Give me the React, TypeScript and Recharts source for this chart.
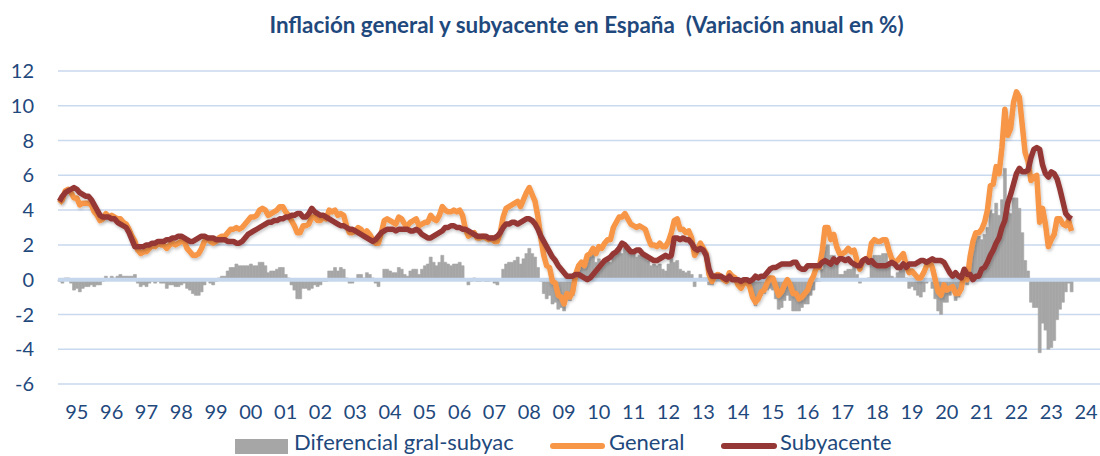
import React from 'react';
import { ComposedChart, Bar, Line, XAxis, YAxis, CartesianGrid, ReferenceLine } from 'recharts';

// Year labels on the x axis (one label per year, centred on the year)
const yearLabels = [
  '95', '96', '97', '98', '99', '00', '01', '02', '03', '04',
  '05', '06', '07', '08', '09', '10', '11', '12', '13', '14',
  '15', '16', '17', '18', '19', '20', '21', '22', '23', '24',
];

// Monthly annual rates, Jan 1995 .. Feb 2024 (one row per year)
const general = [
  4.4, 4.6, 5.1, 5.2, 5.0, 4.7, 4.7, 4.3, 4.4, 4.4, 4.4, 4.3,
  3.9, 3.7, 3.4, 3.5, 3.8, 3.6, 3.7, 3.6, 3.5, 3.5, 3.3, 3.2,
  2.9, 2.5, 2.2, 1.7, 1.5, 1.6, 1.6, 1.8, 2.0, 1.9, 2.1, 2.0,
  2.0, 1.8, 2.0, 2.1, 2.0, 2.1, 2.2, 2.2, 1.8, 1.6, 1.4, 1.4,
  1.5, 1.8, 2.2, 2.4, 2.2, 2.1, 2.2, 2.4, 2.5, 2.5, 2.7, 2.9,
  2.9, 3.0, 2.9, 3.0, 3.2, 3.4, 3.6, 3.6, 3.7, 4.0, 4.1, 4.0,
  3.7, 3.8, 3.9, 4.0, 4.2, 4.2, 3.9, 3.7, 3.4, 3.1, 2.7, 2.7,
  3.1, 3.1, 3.2, 3.6, 3.6, 3.4, 3.4, 3.6, 3.5, 4.0, 3.9, 4.0,
  3.7, 3.8, 3.7, 3.1, 2.7, 2.7, 2.8, 3.0, 2.9, 2.6, 2.8, 2.6,
  2.3, 2.1, 2.1, 2.7, 3.4, 3.5, 3.4, 3.3, 3.2, 3.6, 3.5, 3.2,
  3.1, 3.3, 3.4, 3.5, 3.1, 3.2, 3.3, 3.3, 3.7, 3.5, 3.4, 3.7,
  4.2, 4.0, 3.9, 3.9, 4.0, 3.9, 4.0, 3.7, 2.9, 2.5, 2.6, 2.7,
  2.4, 2.4, 2.5, 2.4, 2.3, 2.4, 2.2, 2.2, 2.7, 3.6, 4.1, 4.2,
  4.3, 4.4, 4.5, 4.2, 4.6, 5.0, 5.3, 4.9, 4.5, 3.6, 2.4, 1.4,
  0.8, 0.7, -0.1, -0.2, -0.9, -1.0, -1.4, -0.8, -1.0, -0.7, 0.3, 0.8,
  1.0, 0.8, 1.4, 1.5, 1.8, 1.5, 1.9, 1.8, 2.1, 2.3, 2.3, 3.0,
  3.3, 3.6, 3.6, 3.8, 3.5, 3.2, 3.1, 3.0, 3.1, 3.0, 2.9, 2.4,
  2.0, 2.0, 1.9, 2.1, 1.9, 1.9, 2.2, 2.7, 3.4, 3.5, 2.9, 2.9,
  2.7, 2.8, 2.4, 1.4, 1.7, 2.1, 1.8, 1.5, 0.3, -0.1, 0.2, 0.3,
  0.2, 0.0, -0.1, 0.4, 0.2, 0.1, -0.3, -0.5, -0.2, -0.1, -0.4, -1.0,
  -1.3, -1.1, -0.7, -0.6, -0.2, 0.1, 0.1, -0.4, -0.9, -0.7, -0.3, 0.0,
  -0.3, -0.8, -0.8, -1.1, -1.0, -0.8, -0.6, -0.1, 0.2, 0.7, 0.7, 1.6,
  3.0, 3.0, 2.3, 2.6, 1.9, 1.5, 1.5, 1.6, 1.8, 1.6, 1.7, 1.1,
  0.6, 1.1, 1.2, 1.1, 2.1, 2.3, 2.2, 2.2, 2.3, 2.3, 1.7, 1.2,
  1.0, 1.1, 1.3, 1.5, 0.8, 0.4, 0.5, 0.3, 0.1, 0.1, 0.4, 0.8,
  1.1, 0.7, 0.0, -0.7, -0.9, -0.3, -0.6, -0.5, -0.4, -0.8, -0.8, -0.5,
  0.5, 0.0, 1.3, 2.2, 2.7, 2.7, 2.9, 3.3, 4.0, 5.4, 5.5, 6.5,
  6.1, 7.6, 9.8, 8.3, 8.7, 10.2, 10.8, 10.5, 8.9, 7.3, 6.8, 5.7,
  5.9, 6.0, 3.3, 4.1, 3.2, 1.9, 2.3, 2.6, 3.5, 3.5, 3.2, 3.1,
  3.4, 2.8,
];

const subyacente = [
  4.5, 4.8, 5.0, 5.1, 5.2, 5.3, 5.2, 5.0, 4.9, 4.8, 4.8, 4.6,
  4.3, 4.0, 3.7, 3.6, 3.6, 3.6, 3.5, 3.5, 3.3, 3.2, 3.1, 3.0,
  2.7, 2.3, 1.9, 1.9, 1.9, 1.9, 2.0, 2.0, 2.1, 2.1, 2.2, 2.2,
  2.2, 2.3, 2.3, 2.4, 2.4, 2.5, 2.5, 2.4, 2.3, 2.2, 2.2, 2.3,
  2.4, 2.5, 2.5, 2.4, 2.4, 2.4, 2.3, 2.3, 2.3, 2.3, 2.2, 2.2,
  2.2, 2.1, 2.1, 2.2, 2.4, 2.6, 2.7, 2.8, 2.9, 3.0, 3.1, 3.2,
  3.3, 3.3, 3.4, 3.4, 3.5, 3.5, 3.6, 3.6, 3.7, 3.7, 3.8, 3.8,
  3.6, 3.6, 3.8, 4.1, 3.9, 3.8, 3.7, 3.7, 3.6, 3.5, 3.4, 3.3,
  3.2, 3.1, 3.1, 3.0, 2.9, 2.9, 2.8, 2.7, 2.6, 2.5, 2.4, 2.3,
  2.2, 2.3, 2.5, 2.7, 2.8, 2.9, 2.9, 2.9, 2.8, 2.9, 2.9, 2.9,
  2.9, 2.8, 2.8, 2.9, 2.8, 2.6, 2.5, 2.4, 2.4, 2.5, 2.6, 2.7,
  2.8, 3.0, 3.0, 3.1, 3.1, 3.0, 3.0, 2.9, 2.9, 2.8, 2.7, 2.6,
  2.5, 2.5, 2.5, 2.5, 2.4, 2.4, 2.4, 2.5, 2.7, 3.0, 3.2, 3.2,
  3.3, 3.3, 3.2, 3.3, 3.4, 3.5, 3.5, 3.4, 3.2, 2.9, 2.5, 2.2,
  1.9, 1.6, 1.3, 1.1, 0.8, 0.6, 0.4, 0.2, 0.2, 0.2, 0.3, 0.3,
  0.2, 0.1, 0.0, 0.1, 0.3, 0.5, 0.7, 0.9, 1.1, 1.2, 1.3, 1.5,
  1.6, 1.8, 2.1, 2.0, 1.8, 1.6, 1.6, 1.7, 1.7, 1.5, 1.4, 1.3,
  1.2, 1.1, 1.1, 1.2, 1.3, 1.4, 1.3, 1.4, 2.4, 2.4, 2.3, 2.4,
  2.3, 2.3, 2.1, 1.8, 1.7, 1.8, 1.7, 1.4, 0.6, 0.2, 0.2, 0.2,
  0.2, 0.1, 0.0, 0.2, 0.0, 0.0, 0.0, -0.1, 0.0, 0.0, -0.1, 0.0,
  0.2, 0.1, 0.2, 0.2, 0.4, 0.6, 0.7, 0.7, 0.8, 0.9, 0.9, 0.9,
  0.9, 1.0, 1.0, 0.7, 0.6, 0.6, 0.8, 0.8, 0.8, 0.8, 0.8, 1.0,
  1.1, 1.0, 0.9, 1.2, 1.0, 1.2, 1.2, 1.1, 1.2, 1.0, 0.9, 0.8,
  0.8, 1.1, 1.2, 1.0, 1.1, 0.9, 0.8, 0.8, 0.8, 0.8, 0.9, 1.0,
  0.9, 0.7, 0.7, 0.9, 0.7, 0.9, 0.9, 0.9, 1.0, 1.1, 1.1, 1.0,
  1.1, 1.2, 1.1, 1.1, 1.1, 1.0, 0.7, 0.4, 0.2, 0.4, 0.2, 0.1,
  0.6, 0.3, 0.3, 0.0, 0.2, 0.2, 0.6, 0.7, 1.0, 1.4, 1.7, 2.1,
  2.4, 3.0, 3.4, 4.4, 4.9, 5.5, 6.1, 6.4, 6.2, 6.2, 6.3, 7.0,
  7.5, 7.6, 7.5, 6.6, 6.1, 5.9, 6.2, 6.1, 5.8, 5.2, 4.5, 3.8,
  3.6, 3.5,
];

// Differential general - core, as plotted in the grey bars
const diferencial = [
  -0.1, -0.2, 0.1, 0.1, -0.2, -0.6, -0.5, -0.7, -0.5, -0.4, -0.4, -0.3,
  -0.4, -0.3, -0.3, -0.1, 0.2, 0.0, 0.2, 0.1, 0.2, 0.3, 0.2, 0.2,
  0.2, 0.2, 0.3, -0.2, -0.4, -0.3, -0.4, -0.2, -0.1, -0.2, -0.1, -0.2,
  -0.2, -0.5, -0.3, -0.3, -0.4, -0.4, -0.3, -0.2, -0.5, -0.6, -0.8, -0.9,
  -0.9, -0.7, -0.3, 0.0, -0.2, -0.3, -0.1, 0.1, 0.2, 0.2, 0.5, 0.7,
  0.7, 0.9, 0.8, 0.8, 0.8, 0.8, 0.9, 0.8, 0.8, 1.0, 1.0, 0.8,
  0.4, 0.5, 0.5, 0.6, 0.7, 0.7, 0.3, 0.1, -0.3, -0.6, -1.1, -1.1,
  -0.5, -0.5, -0.6, -0.5, -0.3, -0.4, -0.3, -0.1, -0.1, 0.5, 0.5, 0.7,
  0.5, 0.7, 0.6, 0.1, -0.2, -0.2, 0.0, 0.3, 0.3, 0.1, 0.4, 0.3,
  0.1, -0.2, -0.4, 0.0, 0.6, 0.6, 0.5, 0.4, 0.4, 0.7, 0.6, 0.3,
  0.2, 0.5, 0.6, 0.6, 0.3, 0.6, 0.8, 0.9, 1.3, 1.0, 0.8, 1.0,
  1.4, 1.0, 0.9, 0.8, 0.9, 0.9, 1.0, 0.8, 0.0, -0.3, -0.1, 0.1,
  -0.1, -0.1, 0.0, -0.1, -0.1, 0.0, -0.2, -0.3, 0.0, 0.6, 0.9, 1.0,
  1.0, 1.1, 1.3, 0.9, 1.2, 1.5, 1.8, 1.5, 1.3, 0.7, -0.1, -0.8,
  -1.1, -0.9, -1.4, -1.3, -1.7, -1.6, -1.8, -1.0, -1.2, -0.9, 0.0, 0.5,
  0.8, 0.7, 1.4, 1.4, 1.5, 1.0, 1.2, 0.9, 1.0, 1.1, 1.0, 1.5,
  1.7, 1.8, 1.5, 1.8, 1.7, 1.6, 1.5, 1.3, 1.4, 1.5, 1.5, 1.1,
  0.8, 0.9, 0.8, 0.9, 0.6, 0.5, 0.9, 1.3, 1.0, 1.1, 0.6, 0.5,
  0.4, 0.5, 0.3, -0.4, 0.0, 0.3, 0.1, 0.1, -0.3, -0.3, 0.0, 0.1,
  0.0, -0.1, -0.1, 0.2, 0.2, 0.1, -0.3, -0.4, -0.2, -0.1, -0.3, -1.0,
  -1.5, -1.2, -0.9, -0.8, -0.6, -0.5, -0.6, -1.1, -1.7, -1.6, -1.2, -0.9,
  -1.2, -1.8, -1.8, -1.8, -1.6, -1.4, -1.4, -0.9, -0.6, -0.1, -0.1, 0.6,
  1.9, 2.0, 1.4, 1.4, 0.9, 0.3, 0.3, 0.5, 0.6, 0.6, 0.8, 0.3,
  -0.2, 0.0, 0.0, 0.1, 1.0, 1.4, 1.4, 1.4, 1.5, 1.5, 0.8, 0.2,
  0.1, 0.4, 0.6, 0.6, 0.1, -0.5, -0.4, -0.6, -0.9, -1.0, -0.7, -0.2,
  0.0, -0.5, -1.1, -1.8, -2.0, -1.3, -1.3, -0.9, -0.6, -1.2, -1.0, -0.6,
  -0.1, -0.3, 1.0, 2.2, 2.5, 2.5, 2.3, 2.6, 3.0, 4.0, 3.8, 4.4,
  3.7, 4.6, 6.4, 3.9, 3.8, 4.7, 4.7, 4.1, 2.7, 1.1, 0.5, -1.3,
  -1.6, -1.6, -4.2, -2.5, -2.9, -4.0, -3.9, -3.5, -2.3, -1.7, -1.3, -0.7,
  -0.2, -0.7,
];

const yTicks = [-6, -4, -2, 0, 2, 4, 6, 8, 10, 12];

const firstYear = 1995;
const TEXT = '#1F497D';
const ORANGE = '#F79646';
const RED = '#953735';
const GREY = '#A6A6A6';

const data = Array.from({ length: yearLabels.length * 12 }, (_, i) => ({
  month: `${firstYear + Math.floor(i / 12)}-${String((i % 12) + 1).padStart(2, '0')}`,
  diferencial: i < diferencial.length ? diferencial[i] : null,
  general: i < general.length ? general[i] : null,
  subyacente: i < subyacente.length ? subyacente[i] : null,
}));

// one tick per year, placed in the middle of the year
const xTicks = yearLabels.map((_, i) => data[i * 12 + 6].month);

const legendText: React.CSSProperties = {
  position: 'absolute',
  top: 431,
  fontSize: 22,
  lineHeight: '22px',
  color: TEXT,
  whiteSpace: 'nowrap',
};

export default function App() {
  return (
    <div
      style={{
        position: 'fixed',
        left: 0,
        top: 0,
        width: 1100,
        height: 456,
        overflow: 'hidden',
        background: '#fff',
        fontFamily: 'Lato, "Open Sans", sans-serif',
      }}
    >
      <div
        style={{
          position: 'absolute',
          top: 11,
          left: 0,
          width: 1173,
          textAlign: 'center',
          fontSize: 22.4,
          lineHeight: 'normal',
          fontWeight: 700,
          color: TEXT,
          whiteSpace: 'pre',
        }}
      >
        {'Inflación general y subyacente en España  (Variación anual en %)'}
      </div>

      <div style={{ position: 'absolute', left: 0, top: 0 }}>
        <ComposedChart
          width={1102}
          height={456}
          data={data}
          margin={{ top: 71, right: 0, bottom: 0, left: 0 }}
          barCategoryGap={0}
          barGap={0}
        >
          <defs>
            <filter id="soft" x="-5%" y="-5%" width="110%" height="115%">
              <feDropShadow dx="1" dy="2" stdDeviation="1.5" floodColor="#000" floodOpacity="0.22" />
            </filter>
          </defs>
          <CartesianGrid vertical={false} stroke="#C9D9EE" strokeWidth={1.5} />
          <XAxis
            dataKey="month"
            ticks={xTicks}
            interval={0}
            axisLine={false}
            tickLine={false}
            tickSize={0}
            tickMargin={21}
            height={72}
            tick={{ fill: TEXT, fontSize: 20 }}
            tickFormatter={(v: string) => v.slice(2, 4)}
          />
          <YAxis
            width={58}
            domain={[-6, 12]}
            ticks={yTicks}
            interval={0}
            axisLine={false}
            tickLine={false}
            tickSize={0}
            tickMargin={24}
            tick={{ fill: TEXT, fontSize: 20 }}
          />
          <Bar
            dataKey="diferencial"
            fill={GREY}
            stroke={GREY}
            strokeWidth={0.6}
            isAnimationActive={false}
          />
          <ReferenceLine y={0} stroke="#C5D7EC" strokeWidth={4} />
          <Line
            type="linear"
            dataKey="general"
            stroke={ORANGE}
            strokeWidth={5.5}
            strokeLinejoin="round"
            filter="url(#soft)"
            dot={false}
            activeDot={false}
            isAnimationActive={false}
          />
          <Line
            type="linear"
            dataKey="subyacente"
            stroke={RED}
            strokeWidth={5.5}
            strokeLinejoin="round"
            filter="url(#soft)"
            dot={false}
            activeDot={false}
            isAnimationActive={false}
          />
        </ComposedChart>
      </div>

      <div style={{ position: 'absolute', left: 235, top: 439, width: 53, height: 15, background: GREY }} />
      <div style={{ ...legendText, left: 294 }}>Diferencial gral-subyac</div>
      <div style={{ position: 'absolute', left: 550, top: 443, width: 55, height: 6, borderRadius: 3, background: ORANGE }} />
      <div style={{ ...legendText, left: 609 }}>General</div>
      <div style={{ position: 'absolute', left: 721, top: 443, width: 56, height: 6, borderRadius: 3, background: RED }} />
      <div style={{ ...legendText, left: 780 }}>Subyacente</div>
    </div>
  );
}
